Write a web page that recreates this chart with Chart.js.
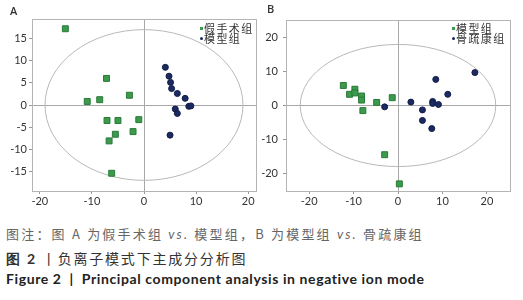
<!DOCTYPE html>
<html>
<head>
<meta charset="utf-8">
<script src="https://cdn.jsdelivr.net/npm/chart.js@4.4.1/dist/chart.umd.min.js"></script>
<style>
    body { margin: 0; width: 523px; height: 300px; background: #fff; position: relative; overflow: hidden; }
    .panel { position: absolute; top: 0; height: 205px; }
    #panelA { left: 0; width: 262px; }
    #panelB { left: 258px; width: 265px; }
    .tag { position: absolute; font: 600 11px "Open Sans", sans-serif; color: #333; }
    .legend { position: absolute; font: 11px "Noto Sans CJK SC", serif; line-height: 10px; letter-spacing: 1.4px; color: #333; }
    .legend div { position: relative; padding-left: 4px; white-space: nowrap; }
    .legend i { position: absolute; left: 0; top: 4px; width: 3px; height: 3px; }
    .cap { position: absolute; left: 6px; white-space: nowrap; }
    #cap1 { top: 224px; font: 13px "Noto Sans CJK SC", sans-serif; letter-spacing: 2.2px; color: #666; }
    #cap1 em { font-family: Lato, sans-serif; }
    #cap2 { top: 248px; font: 14px "Noto Sans CJK SC", sans-serif; letter-spacing: 1.8px; color: #333; }
    #cap3 { top: 270px; font: bold 14px Lato, sans-serif; letter-spacing: 0.6px; color: #222; }
</style>
</head>
<body>
<div class="panel" id="panelA"><canvas id="chartA"></canvas></div>
<div class="panel" id="panelB"><canvas id="chartB"></canvas></div>
<div class="tag" style="left:10px;top:3px">A</div>
<div class="tag" style="left:267px;top:1px">B</div>
<div class="legend" id="legendA" style="left:200px;top:23px"></div>
<div class="legend" id="legendB" style="left:452px;top:23px"></div>
<div class="cap" id="cap1">图注：图 A 为假手术组 <em>vs.</em> 模型组，B 为模型组 <em>vs.</em> 骨疏康组</div>
<div class="cap" id="cap2"><b style="font-family:Lato">图 2</b> 丨负离子模式下主成分分析图</div>
<div class="cap" id="cap3">Figure 2&nbsp; |&nbsp; Principal component analysis in negative ion mode</div>
<script>
// panel A: sham vs model
const shamA = [[-15.1, 17.2], [-7.2, 6.0], [-10.9, 0.8], [-8.5, 1.2], [-2.8, 2.2], [-7.1, -3.5],
    [-5.0, -3.5], [-1.0, -3.3], [-2.1, -6.0], [-5.5, -6.6], [-6.7, -8.1], [-6.2, -15.4]];
const modelA = [[4.1, 8.5], [4.8, 6.5], [5.1, 5.1], [5.3, 3.7], [6.4, 2.6], [7.9, 1.5],
    [8.6, -0.3], [9.0, -0.2], [6.0, -0.9], [6.4, -1.9], [5.0, -6.8]];
// panel B: model vs Gushukang
const modelB = [[-12.3, 5.9], [-10.9, 3.3], [-9.7, 4.8], [-9.7, 3.7], [-8.2, 2.8], [-8.2, 1.6],
    [-7.9, -1.5], [-4.8, 0.9], [-1.3, 2.3], [-3.0, -14.5], [0.3, -23.1]];
const gskB = [[-3.0, -0.4], [2.9, 1.0], [5.5, -1.3], [5.5, -4.4], [7.8, 1.2], [7.8, 0.6],
    [9.1, 0.3], [8.5, 7.7], [7.6, -6.8], [11.2, 3.3], [17.3, 9.7]];

const labelsA = ['假手术组', '模型组'];
const labelsB = ['模型组', '骨疏康组'];

// 95% confidence ellipse half-axes (t1, t2)
const ellipseA = [19, 17];
const ellipseB = [22, 18];

const GREEN = '#3b9a4c';
const NAVY = '#1b2a62';

const ellipsePlugin = {
    id: 'ellipse',
    beforeDatasetsDraw(chart, args, opts) {
        const { x, y } = chart.scales;
        const ctx = chart.ctx;
        const cx = x.getPixelForValue(0), cy = y.getPixelForValue(0);
        const rx = Math.abs(x.getPixelForValue(opts.axes[0]) - cx);
        const ry = Math.abs(y.getPixelForValue(opts.axes[1]) - cy);
        ctx.save();
        ctx.beginPath();
        ctx.ellipse(cx, cy, rx, ry, 0, 0, Math.PI * 2);
        ctx.strokeStyle = '#b8b8b8';
        ctx.lineWidth = 1;
        ctx.stroke();
        ctx.restore();
    }
};

const framePlugin = {
    id: 'frame',
    afterDatasetsDraw(chart) {
        const a = chart.chartArea;
        const ctx = chart.ctx;
        ctx.save();
        ctx.strokeStyle = '#b4b4b4';
        ctx.lineWidth = 1;
        ctx.strokeRect(Math.round(a.left) + 0.5, Math.round(a.top) + 0.5, Math.round(a.right - a.left), Math.round(a.bottom - a.top));
        ctx.restore();
    }
};

function toPts(arr) {
    return arr.map(p => ({ x: p[0], y: p[1] }));
}

function axis(min, max, step, fit) {
    return {
        type: 'linear',
        min: min,
        max: max,
        border: { display: false },
        grid: {
            color: c => (c.tick && c.tick.value === 0) ? '#a8a8a8' : 'rgba(0,0,0,0)',
            tickColor: '#999',
            tickLength: 3,
            drawTicks: true
        },
        ticks: {
            stepSize: step,
            includeBounds: false,
            padding: fit.pad,
            color: '#333',
            font: { family: 'Lato', size: 11 }
        },
        afterFit: fit.fn
    };
}

function makePca(id, groups, labels, xr, yr, pad, yWidth, ell) {
    const ctx = document.getElementById(id).getContext('2d');
    return new Chart(ctx, {
        type: 'scatter',
        data: {
            datasets: [
                {
                    label: labels[0],
                    data: toPts(groups[0]),
                    pointStyle: 'rect',
                    pointRadius: 4.2,
                    backgroundColor: GREEN,
                    borderColor: '#2a7a39',
                    borderWidth: 1
                },
                {
                    label: labels[1],
                    data: toPts(groups[1]),
                    pointStyle: 'circle',
                    pointRadius: 3,
                    backgroundColor: NAVY,
                    borderColor: '#101c45',
                    borderWidth: 1
                }
            ]
        },
        options: {
            responsive: true,
            maintainAspectRatio: false,
            animation: false,
            layout: { padding: pad },
            plugins: {
                legend: { display: false },
                tooltip: { enabled: false },
                ellipse: { axes: ell }
            },
            scales: {
                x: axis(xr[0], xr[1], xr[2], { pad: 1, fn: s => { s.height = 14; } }),
                y: axis(yr[0], yr[1], yr[2], { pad: yWidth[1], fn: s => { s.width = yWidth[0]; } })
            }
        },
        plugins: [ellipsePlugin, framePlugin]
    });
}

function fillLegend(id, labels) {
    const el = document.getElementById(id);
    el.innerHTML = '<div><i style="background:' + GREEN + '"></i>' + labels[0] + '</div>' +
        '<div><i style="background:' + NAVY + ';border-radius:50%"></i>' + labels[1] + '</div>';
}

makePca('chartA', [shamA, modelA], labelsA, [-21.5, 21.5, 10], [-19.4, 19.4, 5],
    { top: 19, right: 6, left: 0, bottom: 0 }, [32, 2], ellipseA);
makePca('chartB', [modelB, gskB], labelsB, [-25.2, 25.2, 10], [-25.2, 25.2, 10],
    { top: 20, right: 13, left: 0, bottom: 0 }, [28, 5], ellipseB);

fillLegend('legendA', labelsA);
fillLegend('legendB', labelsB);
</script>
</body>
</html>
